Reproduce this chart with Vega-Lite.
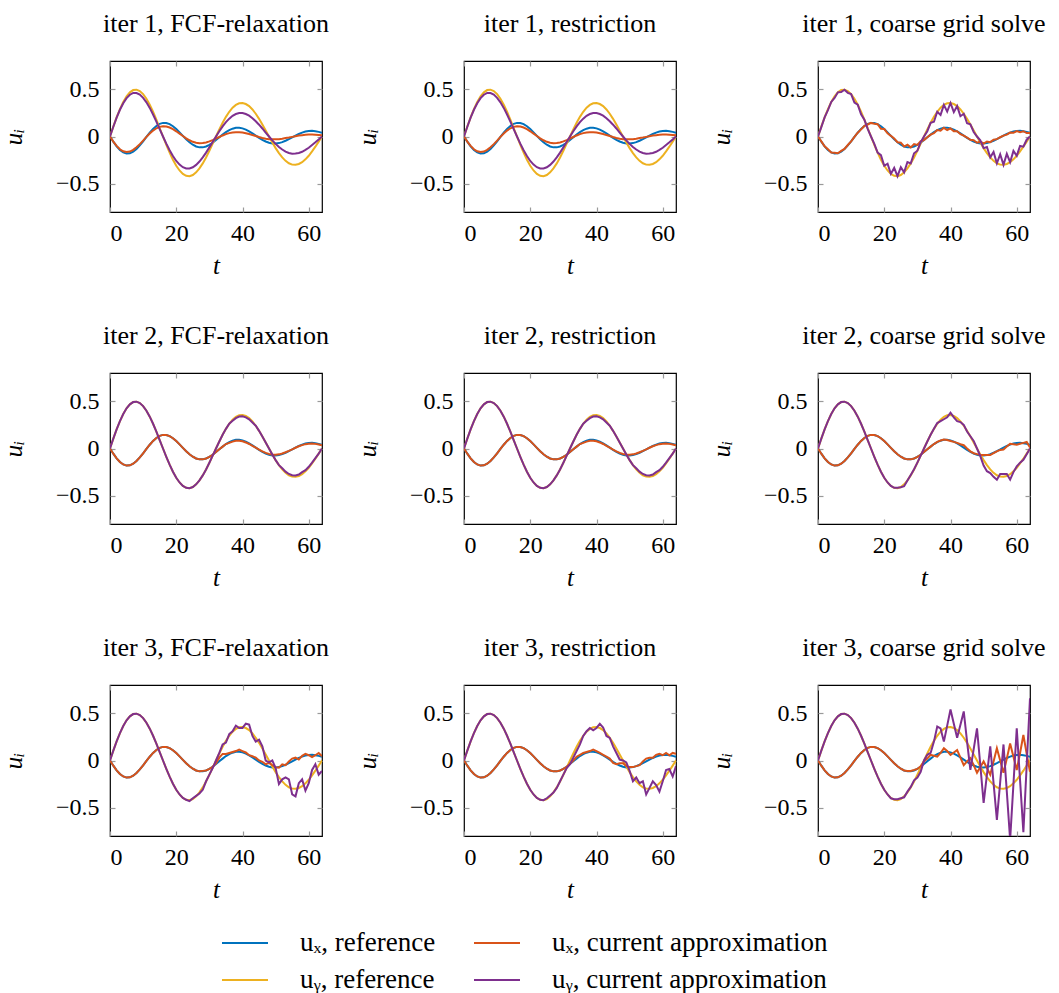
{
"$schema":"https://vega.github.io/schema/vega-lite/v6.json",
"background":"white",
"padding":{"left":0,"top":10,"right":0,"bottom":0},
"config":{
 "font":"Liberation Serif",
 "view":{"stroke":"black","strokeWidth":1.2},
 "axis":{"domain":false,"grid":false,"ticks":true,"tickColor":"#9a9a9a","tickSize":-5,"tickWidth":1.2,"labelFont":"Liberation Serif","labelFontSize":24,"labelColor":"#000","titleFont":"Liberation Serif","titleFontSize":25,"titleFontStyle":"italic","titleFontWeight":"normal","titleColor":"#000"},
 "axisX":{"labelPadding":14,"titlePadding":8},
 "axisY":{"labelPadding":16,"titlePadding":29},
 "title":{"font":"Liberation Serif","fontSize":26,"fontWeight":"normal","color":"#000","frame":"group","anchor":"middle","offset":23},
 "legend":{"labelFont":"Liberation Serif","labelFontSize":27,"labelColor":"#000","labelLimit":0}
},
"datasets":{
"ref":[
{"t":0,"ux_ref":0,"uy_ref":0},{"t":1,"ux_ref":-0.055,"uy_ref":0.104},{"t":2,"ux_ref":-0.104,"uy_ref":0.203},{"t":3,"ux_ref":-0.143,"uy_ref":0.291},{"t":4,"ux_ref":-0.169,"uy_ref":0.366},{"t":5,"ux_ref":-0.181,"uy_ref":0.426},{"t":6,"ux_ref":-0.178,"uy_ref":0.468},{"t":7,"ux_ref":-0.161,"uy_ref":0.492},{"t":8,"ux_ref":-0.132,"uy_ref":0.496},{"t":9,"ux_ref":-0.095,"uy_ref":0.482},{"t":10,"ux_ref":-0.051,"uy_ref":0.449},{"t":11,"ux_ref":-0.005,"uy_ref":0.4},{"t":12,"ux_ref":0.04,"uy_ref":0.337},{"t":13,"ux_ref":0.08,"uy_ref":0.262},{"t":14,"ux_ref":0.112,"uy_ref":0.178},{"t":15,"ux_ref":0.134,"uy_ref":0.09},{"t":16,"ux_ref":0.144,"uy_ref":0},{"t":17,"ux_ref":0.143,"uy_ref":-0.088},{"t":18,"ux_ref":0.131,"uy_ref":-0.171},{"t":19,"ux_ref":0.109,"uy_ref":-0.246},{"t":20,"ux_ref":0.079,"uy_ref":-0.31},{"t":21,"ux_ref":0.044,"uy_ref":-0.36},{"t":22,"ux_ref":0.007,"uy_ref":-0.396},{"t":23,"ux_ref":-0.029,"uy_ref":-0.416},{"t":24,"ux_ref":-0.061,"uy_ref":-0.42},{"t":25,"ux_ref":-0.087,"uy_ref":-0.408},{"t":26,"ux_ref":-0.106,"uy_ref":-0.38},{"t":27,"ux_ref":-0.115,"uy_ref":-0.338},{"t":28,"ux_ref":-0.115,"uy_ref":-0.285},{"t":29,"ux_ref":-0.106,"uy_ref":-0.222},{"t":30,"ux_ref":-0.089,"uy_ref":-0.151},{"t":31,"ux_ref":-0.066,"uy_ref":-0.076},{"t":32,"ux_ref":-0.038,"uy_ref":0},{"t":33,"ux_ref":-0.009,"uy_ref":0.074},{"t":34,"ux_ref":0.02,"uy_ref":0.145},{"t":35,"ux_ref":0.047,"uy_ref":0.208},{"t":36,"ux_ref":0.068,"uy_ref":0.262},{"t":37,"ux_ref":0.083,"uy_ref":0.305},{"t":38,"ux_ref":0.092,"uy_ref":0.335},{"t":39,"ux_ref":0.092,"uy_ref":0.352},{"t":40,"ux_ref":0.086,"uy_ref":0.355},{"t":41,"ux_ref":0.073,"uy_ref":0.344},{"t":42,"ux_ref":0.055,"uy_ref":0.322},{"t":43,"ux_ref":0.033,"uy_ref":0.286},{"t":44,"ux_ref":0.01,"uy_ref":0.241},{"t":45,"ux_ref":-0.014,"uy_ref":0.187},{"t":46,"ux_ref":-0.035,"uy_ref":0.128},{"t":47,"ux_ref":-0.053,"uy_ref":0.064},{"t":48,"ux_ref":-0.066,"uy_ref":0},{"t":49,"ux_ref":-0.073,"uy_ref":-0.063},{"t":50,"ux_ref":-0.074,"uy_ref":-0.123},{"t":51,"ux_ref":-0.07,"uy_ref":-0.176},{"t":52,"ux_ref":-0.06,"uy_ref":-0.221},{"t":53,"ux_ref":-0.045,"uy_ref":-0.258},{"t":54,"ux_ref":-0.028,"uy_ref":-0.284},{"t":55,"ux_ref":-0.01,"uy_ref":-0.298},{"t":56,"ux_ref":0.009,"uy_ref":-0.3},{"t":57,"ux_ref":0.027,"uy_ref":-0.291},{"t":58,"ux_ref":0.041,"uy_ref":-0.272},{"t":59,"ux_ref":0.052,"uy_ref":-0.242},{"t":60,"ux_ref":0.058,"uy_ref":-0.204},{"t":61,"ux_ref":0.06,"uy_ref":-0.158},{"t":62,"ux_ref":0.056,"uy_ref":-0.108},{"t":63,"ux_ref":0.049,"uy_ref":-0.054},{"t":64,"ux_ref":0.038,"uy_ref":0}
],
"app":[
{"p":1,"t":0,"ux_app":0,"uy_app":0},{"p":1,"t":1,"ux_app":-0.054,"uy_app":0.103},{"p":1,"t":2,"ux_app":-0.1,"uy_app":0.199},{"p":1,"t":3,"ux_app":-0.135,"uy_app":0.283},{"p":1,"t":4,"ux_app":-0.157,"uy_app":0.353},{"p":1,"t":5,"ux_app":-0.165,"uy_app":0.407},{"p":1,"t":6,"ux_app":-0.16,"uy_app":0.443},{"p":1,"t":7,"ux_app":-0.142,"uy_app":0.462},{"p":1,"t":8,"ux_app":-0.114,"uy_app":0.461},{"p":1,"t":9,"ux_app":-0.081,"uy_app":0.444},{"p":1,"t":10,"ux_app":-0.043,"uy_app":0.41},{"p":1,"t":11,"ux_app":-0.004,"uy_app":0.362},{"p":1,"t":12,"ux_app":0.032,"uy_app":0.303},{"p":1,"t":13,"ux_app":0.063,"uy_app":0.233},{"p":1,"t":14,"ux_app":0.087,"uy_app":0.157},{"p":1,"t":15,"ux_app":0.102,"uy_app":0.079},{"p":1,"t":16,"ux_app":0.108,"uy_app":0},{"p":1,"t":17,"ux_app":0.105,"uy_app":-0.076},{"p":1,"t":18,"ux_app":0.095,"uy_app":-0.146},{"p":1,"t":19,"ux_app":0.077,"uy_app":-0.207},{"p":1,"t":20,"ux_app":0.055,"uy_app":-0.259},{"p":1,"t":21,"ux_app":0.03,"uy_app":-0.298},{"p":1,"t":22,"ux_app":0.005,"uy_app":-0.325},{"p":1,"t":23,"ux_app":-0.019,"uy_app":-0.338},{"p":1,"t":24,"ux_app":-0.04,"uy_app":-0.339},{"p":1,"t":25,"ux_app":-0.056,"uy_app":-0.326},{"p":1,"t":26,"ux_app":-0.066,"uy_app":-0.301},{"p":1,"t":27,"ux_app":-0.071,"uy_app":-0.265},{"p":1,"t":28,"ux_app":-0.069,"uy_app":-0.221},{"p":1,"t":29,"ux_app":-0.063,"uy_app":-0.171},{"p":1,"t":30,"ux_app":-0.052,"uy_app":-0.115},{"p":1,"t":31,"ux_app":-0.038,"uy_app":-0.058},{"p":1,"t":32,"ux_app":-0.021,"uy_app":0},{"p":1,"t":33,"ux_app":-0.005,"uy_app":0.055},{"p":1,"t":34,"ux_app":0.011,"uy_app":0.107},{"p":1,"t":35,"ux_app":0.025,"uy_app":0.152},{"p":1,"t":36,"ux_app":0.036,"uy_app":0.189},{"p":1,"t":37,"ux_app":0.043,"uy_app":0.219},{"p":1,"t":38,"ux_app":0.046,"uy_app":0.238},{"p":1,"t":39,"ux_app":0.046,"uy_app":0.248},{"p":1,"t":40,"ux_app":0.042,"uy_app":0.248},{"p":1,"t":41,"ux_app":0.035,"uy_app":0.238},{"p":1,"t":42,"ux_app":0.026,"uy_app":0.221},{"p":1,"t":43,"ux_app":0.015,"uy_app":0.194},{"p":1,"t":44,"ux_app":0.005,"uy_app":0.162},{"p":1,"t":45,"ux_app":-0.006,"uy_app":0.125},{"p":1,"t":46,"ux_app":-0.015,"uy_app":0.085},{"p":1,"t":47,"ux_app":-0.023,"uy_app":0.042},{"p":1,"t":48,"ux_app":-0.028,"uy_app":0},{"p":1,"t":49,"ux_app":-0.03,"uy_app":-0.041},{"p":1,"t":50,"ux_app":-0.03,"uy_app":-0.078},{"p":1,"t":51,"ux_app":-0.028,"uy_app":-0.111},{"p":1,"t":52,"ux_app":-0.024,"uy_app":-0.138},{"p":1,"t":53,"ux_app":-0.017,"uy_app":-0.16},{"p":1,"t":54,"ux_app":-0.011,"uy_app":-0.175},{"p":1,"t":55,"ux_app":-0.004,"uy_app":-0.182},{"p":1,"t":56,"ux_app":0.003,"uy_app":-0.181},{"p":1,"t":57,"ux_app":0.01,"uy_app":-0.174},{"p":1,"t":58,"ux_app":0.014,"uy_app":-0.162},{"p":1,"t":59,"ux_app":0.018,"uy_app":-0.142},{"p":1,"t":60,"ux_app":0.02,"uy_app":-0.119},{"p":1,"t":61,"ux_app":0.02,"uy_app":-0.091},{"p":1,"t":62,"ux_app":0.018,"uy_app":-0.062},{"p":1,"t":63,"ux_app":0.016,"uy_app":-0.031},{"p":1,"t":64,"ux_app":0.012,"uy_app":0},
{"p":3,"t":0,"ux_app":0,"uy_app":0},{"p":3,"t":1,"ux_app":-0.052,"uy_app":0.1},{"p":3,"t":2,"ux_app":-0.104,"uy_app":0.203},{"p":3,"t":3,"ux_app":-0.136,"uy_app":0.279},{"p":3,"t":4,"ux_app":-0.169,"uy_app":0.366},{"p":3,"t":5,"ux_app":-0.172,"uy_app":0.409},{"p":3,"t":6,"ux_app":-0.178,"uy_app":0.468},{"p":3,"t":7,"ux_app":-0.153,"uy_app":0.472},{"p":3,"t":8,"ux_app":-0.132,"uy_app":0.496},{"p":3,"t":9,"ux_app":-0.09,"uy_app":0.463},{"p":3,"t":10,"ux_app":-0.051,"uy_app":0.449},{"p":3,"t":11,"ux_app":-0.005,"uy_app":0.36},{"p":3,"t":12,"ux_app":0.04,"uy_app":0.337},{"p":3,"t":13,"ux_app":0.076,"uy_app":0.236},{"p":3,"t":14,"ux_app":0.112,"uy_app":0.178},{"p":3,"t":15,"ux_app":0.127,"uy_app":0.081},{"p":3,"t":16,"ux_app":0.144,"uy_app":0},{"p":3,"t":17,"ux_app":0.136,"uy_app":-0.079},{"p":3,"t":18,"ux_app":0.131,"uy_app":-0.171},{"p":3,"t":19,"ux_app":0.082,"uy_app":-0.197},{"p":3,"t":20,"ux_app":0.079,"uy_app":-0.31},{"p":3,"t":21,"ux_app":0.033,"uy_app":-0.288},{"p":3,"t":22,"ux_app":0.007,"uy_app":-0.396},{"p":3,"t":23,"ux_app":-0.022,"uy_app":-0.333},{"p":3,"t":24,"ux_app":-0.061,"uy_app":-0.42},{"p":3,"t":25,"ux_app":-0.065,"uy_app":-0.326},{"p":3,"t":26,"ux_app":-0.106,"uy_app":-0.38},{"p":3,"t":27,"ux_app":-0.086,"uy_app":-0.27},{"p":3,"t":28,"ux_app":-0.115,"uy_app":-0.285},{"p":3,"t":29,"ux_app":-0.08,"uy_app":-0.178},{"p":3,"t":30,"ux_app":-0.089,"uy_app":-0.151},{"p":3,"t":31,"ux_app":-0.05,"uy_app":-0.061},{"p":3,"t":32,"ux_app":-0.038,"uy_app":0},{"p":3,"t":33,"ux_app":-0.007,"uy_app":0.056},{"p":3,"t":34,"ux_app":0.02,"uy_app":0.145},{"p":3,"t":35,"ux_app":0.035,"uy_app":0.156},{"p":3,"t":36,"ux_app":0.068,"uy_app":0.262},{"p":3,"t":37,"ux_app":0.062,"uy_app":0.229},{"p":3,"t":38,"ux_app":0.092,"uy_app":0.335},{"p":3,"t":39,"ux_app":0.069,"uy_app":0.264},{"p":3,"t":40,"ux_app":0.086,"uy_app":0.355},{"p":3,"t":41,"ux_app":0.055,"uy_app":0.258},{"p":3,"t":42,"ux_app":0.055,"uy_app":0.322},{"p":3,"t":43,"ux_app":0.025,"uy_app":0.215},{"p":3,"t":44,"ux_app":0.01,"uy_app":0.241},{"p":3,"t":45,"ux_app":-0.011,"uy_app":0.14},{"p":3,"t":46,"ux_app":-0.035,"uy_app":0.128},{"p":3,"t":47,"ux_app":-0.04,"uy_app":0.048},{"p":3,"t":48,"ux_app":-0.066,"uy_app":0},{"p":3,"t":49,"ux_app":-0.055,"uy_app":-0.04},{"p":3,"t":50,"ux_app":-0.074,"uy_app":-0.123},{"p":3,"t":51,"ux_app":-0.053,"uy_app":-0.111},{"p":3,"t":52,"ux_app":-0.06,"uy_app":-0.221},{"p":3,"t":53,"ux_app":-0.034,"uy_app":-0.163},{"p":3,"t":54,"ux_app":-0.028,"uy_app":-0.284},{"p":3,"t":55,"ux_app":-0.008,"uy_app":-0.188},{"p":3,"t":56,"ux_app":0.009,"uy_app":-0.3},{"p":3,"t":57,"ux_app":0.02,"uy_app":-0.183},{"p":3,"t":58,"ux_app":0.041,"uy_app":-0.272},{"p":3,"t":59,"ux_app":0.039,"uy_app":-0.152},{"p":3,"t":60,"ux_app":0.058,"uy_app":-0.204},{"p":3,"t":61,"ux_app":0.045,"uy_app":-0.1},{"p":3,"t":62,"ux_app":0.056,"uy_app":-0.108},{"p":3,"t":63,"ux_app":0.037,"uy_app":-0.034},{"p":3,"t":64,"ux_app":0.038,"uy_app":0},
{"p":4,"t":0,"ux_app":0,"uy_app":0},{"p":4,"t":1,"ux_app":-0.055,"uy_app":0.104},{"p":4,"t":2,"ux_app":-0.104,"uy_app":0.203},{"p":4,"t":3,"ux_app":-0.143,"uy_app":0.291},{"p":4,"t":4,"ux_app":-0.169,"uy_app":0.366},{"p":4,"t":5,"ux_app":-0.181,"uy_app":0.426},{"p":4,"t":6,"ux_app":-0.178,"uy_app":0.468},{"p":4,"t":7,"ux_app":-0.161,"uy_app":0.492},{"p":4,"t":8,"ux_app":-0.132,"uy_app":0.496},{"p":4,"t":9,"ux_app":-0.095,"uy_app":0.482},{"p":4,"t":10,"ux_app":-0.051,"uy_app":0.449},{"p":4,"t":11,"ux_app":-0.005,"uy_app":0.4},{"p":4,"t":12,"ux_app":0.04,"uy_app":0.337},{"p":4,"t":13,"ux_app":0.08,"uy_app":0.262},{"p":4,"t":14,"ux_app":0.112,"uy_app":0.178},{"p":4,"t":15,"ux_app":0.134,"uy_app":0.09},{"p":4,"t":16,"ux_app":0.144,"uy_app":0},{"p":4,"t":17,"ux_app":0.143,"uy_app":-0.088},{"p":4,"t":18,"ux_app":0.131,"uy_app":-0.171},{"p":4,"t":19,"ux_app":0.109,"uy_app":-0.246},{"p":4,"t":20,"ux_app":0.079,"uy_app":-0.31},{"p":4,"t":21,"ux_app":0.044,"uy_app":-0.36},{"p":4,"t":22,"ux_app":0.007,"uy_app":-0.396},{"p":4,"t":23,"ux_app":-0.029,"uy_app":-0.416},{"p":4,"t":24,"ux_app":-0.061,"uy_app":-0.42},{"p":4,"t":25,"ux_app":-0.087,"uy_app":-0.408},{"p":4,"t":26,"ux_app":-0.106,"uy_app":-0.38},{"p":4,"t":27,"ux_app":-0.115,"uy_app":-0.338},{"p":4,"t":28,"ux_app":-0.115,"uy_app":-0.285},{"p":4,"t":29,"ux_app":-0.106,"uy_app":-0.222},{"p":4,"t":30,"ux_app":-0.089,"uy_app":-0.151},{"p":4,"t":31,"ux_app":-0.066,"uy_app":-0.076},{"p":4,"t":32,"ux_app":-0.038,"uy_app":0},{"p":4,"t":33,"ux_app":-0.009,"uy_app":0.074},{"p":4,"t":34,"ux_app":0.02,"uy_app":0.145},{"p":4,"t":35,"ux_app":0.047,"uy_app":0.208},{"p":4,"t":36,"ux_app":0.06,"uy_app":0.262},{"p":4,"t":37,"ux_app":0.073,"uy_app":0.293},{"p":4,"t":38,"ux_app":0.081,"uy_app":0.322},{"p":4,"t":39,"ux_app":0.081,"uy_app":0.338},{"p":4,"t":40,"ux_app":0.076,"uy_app":0.341},{"p":4,"t":41,"ux_app":0.064,"uy_app":0.33},{"p":4,"t":42,"ux_app":0.048,"uy_app":0.309},{"p":4,"t":43,"ux_app":0.029,"uy_app":0.275},{"p":4,"t":44,"ux_app":0.009,"uy_app":0.241},{"p":4,"t":45,"ux_app":-0.012,"uy_app":0.187},{"p":4,"t":46,"ux_app":-0.031,"uy_app":0.128},{"p":4,"t":47,"ux_app":-0.047,"uy_app":0.064},{"p":4,"t":48,"ux_app":-0.058,"uy_app":0},{"p":4,"t":49,"ux_app":-0.064,"uy_app":-0.063},{"p":4,"t":50,"ux_app":-0.065,"uy_app":-0.123},{"p":4,"t":51,"ux_app":-0.062,"uy_app":-0.176},{"p":4,"t":52,"ux_app":-0.053,"uy_app":-0.21},{"p":4,"t":53,"ux_app":-0.04,"uy_app":-0.245},{"p":4,"t":54,"ux_app":-0.025,"uy_app":-0.27},{"p":4,"t":55,"ux_app":-0.009,"uy_app":-0.283},{"p":4,"t":56,"ux_app":0.008,"uy_app":-0.285},{"p":4,"t":57,"ux_app":0.024,"uy_app":-0.276},{"p":4,"t":58,"ux_app":0.036,"uy_app":-0.25},{"p":4,"t":59,"ux_app":0.046,"uy_app":-0.23},{"p":4,"t":60,"ux_app":0.051,"uy_app":-0.194},{"p":4,"t":61,"ux_app":0.053,"uy_app":-0.15},{"p":4,"t":62,"ux_app":0.049,"uy_app":-0.103},{"p":4,"t":63,"ux_app":0.043,"uy_app":-0.054},{"p":4,"t":64,"ux_app":0.033,"uy_app":0},
{"p":6,"t":0,"ux_app":0,"uy_app":0},{"p":6,"t":1,"ux_app":-0.055,"uy_app":0.104},{"p":6,"t":2,"ux_app":-0.104,"uy_app":0.203},{"p":6,"t":3,"ux_app":-0.143,"uy_app":0.291},{"p":6,"t":4,"ux_app":-0.169,"uy_app":0.366},{"p":6,"t":5,"ux_app":-0.181,"uy_app":0.426},{"p":6,"t":6,"ux_app":-0.178,"uy_app":0.468},{"p":6,"t":7,"ux_app":-0.161,"uy_app":0.492},{"p":6,"t":8,"ux_app":-0.132,"uy_app":0.496},{"p":6,"t":9,"ux_app":-0.095,"uy_app":0.482},{"p":6,"t":10,"ux_app":-0.051,"uy_app":0.449},{"p":6,"t":11,"ux_app":-0.005,"uy_app":0.4},{"p":6,"t":12,"ux_app":0.04,"uy_app":0.337},{"p":6,"t":13,"ux_app":0.08,"uy_app":0.262},{"p":6,"t":14,"ux_app":0.112,"uy_app":0.178},{"p":6,"t":15,"ux_app":0.134,"uy_app":0.09},{"p":6,"t":16,"ux_app":0.144,"uy_app":0},{"p":6,"t":17,"ux_app":0.143,"uy_app":-0.088},{"p":6,"t":18,"ux_app":0.131,"uy_app":-0.171},{"p":6,"t":19,"ux_app":0.109,"uy_app":-0.246},{"p":6,"t":20,"ux_app":0.079,"uy_app":-0.31},{"p":6,"t":21,"ux_app":0.044,"uy_app":-0.36},{"p":6,"t":22,"ux_app":0.007,"uy_app":-0.396},{"p":6,"t":23,"ux_app":-0.029,"uy_app":-0.416},{"p":6,"t":24,"ux_app":-0.061,"uy_app":-0.415},{"p":6,"t":25,"ux_app":-0.087,"uy_app":-0.41},{"p":6,"t":26,"ux_app":-0.106,"uy_app":-0.4},{"p":6,"t":27,"ux_app":-0.115,"uy_app":-0.34},{"p":6,"t":28,"ux_app":-0.115,"uy_app":-0.28},{"p":6,"t":29,"ux_app":-0.106,"uy_app":-0.22},{"p":6,"t":30,"ux_app":-0.089,"uy_app":-0.15},{"p":6,"t":31,"ux_app":-0.066,"uy_app":-0.076},{"p":6,"t":32,"ux_app":-0.038,"uy_app":0},{"p":6,"t":33,"ux_app":-0.009,"uy_app":0.074},{"p":6,"t":34,"ux_app":0.02,"uy_app":0.145},{"p":6,"t":35,"ux_app":0.047,"uy_app":0.21},{"p":6,"t":36,"ux_app":0.07,"uy_app":0.27},{"p":6,"t":37,"ux_app":0.085,"uy_app":0.29},{"p":6,"t":38,"ux_app":0.095,"uy_app":0.31},{"p":6,"t":39,"ux_app":0.09,"uy_app":0.33},{"p":6,"t":40,"ux_app":0.08,"uy_app":0.38},{"p":6,"t":41,"ux_app":0.07,"uy_app":0.33},{"p":6,"t":42,"ux_app":0.06,"uy_app":0.29},{"p":6,"t":43,"ux_app":0.045,"uy_app":0.28},{"p":6,"t":44,"ux_app":0.035,"uy_app":0.25},{"p":6,"t":45,"ux_app":0,"uy_app":0.18},{"p":6,"t":46,"ux_app":-0.03,"uy_app":0.13},{"p":6,"t":47,"ux_app":-0.05,"uy_app":0.08},{"p":6,"t":48,"ux_app":-0.06,"uy_app":0},{"p":6,"t":49,"ux_app":-0.07,"uy_app":-0.08},{"p":6,"t":50,"ux_app":-0.07,"uy_app":-0.18},{"p":6,"t":51,"ux_app":-0.07,"uy_app":-0.24},{"p":6,"t":52,"ux_app":-0.07,"uy_app":-0.26},{"p":6,"t":53,"ux_app":-0.05,"uy_app":-0.3},{"p":6,"t":54,"ux_app":-0.03,"uy_app":-0.33},{"p":6,"t":55,"ux_app":-0.015,"uy_app":-0.27},{"p":6,"t":56,"ux_app":-0.01,"uy_app":-0.27},{"p":6,"t":57,"ux_app":0.02,"uy_app":-0.27},{"p":6,"t":58,"ux_app":0.05,"uy_app":-0.33},{"p":6,"t":59,"ux_app":0.045,"uy_app":-0.25},{"p":6,"t":60,"ux_app":0.04,"uy_app":-0.19},{"p":6,"t":61,"ux_app":0.05,"uy_app":-0.15},{"p":6,"t":62,"ux_app":0.06,"uy_app":-0.12},{"p":6,"t":63,"ux_app":0.07,"uy_app":-0.06},{"p":6,"t":64,"ux_app":0.01,"uy_app":0},
{"p":7,"t":0,"ux_app":0,"uy_app":0},{"p":7,"t":1,"ux_app":-0.055,"uy_app":0.104},{"p":7,"t":2,"ux_app":-0.104,"uy_app":0.203},{"p":7,"t":3,"ux_app":-0.143,"uy_app":0.291},{"p":7,"t":4,"ux_app":-0.169,"uy_app":0.366},{"p":7,"t":5,"ux_app":-0.181,"uy_app":0.426},{"p":7,"t":6,"ux_app":-0.178,"uy_app":0.468},{"p":7,"t":7,"ux_app":-0.161,"uy_app":0.492},{"p":7,"t":8,"ux_app":-0.132,"uy_app":0.496},{"p":7,"t":9,"ux_app":-0.095,"uy_app":0.482},{"p":7,"t":10,"ux_app":-0.051,"uy_app":0.449},{"p":7,"t":11,"ux_app":-0.005,"uy_app":0.4},{"p":7,"t":12,"ux_app":0.04,"uy_app":0.337},{"p":7,"t":13,"ux_app":0.08,"uy_app":0.262},{"p":7,"t":14,"ux_app":0.112,"uy_app":0.178},{"p":7,"t":15,"ux_app":0.134,"uy_app":0.09},{"p":7,"t":16,"ux_app":0.144,"uy_app":0},{"p":7,"t":17,"ux_app":0.143,"uy_app":-0.088},{"p":7,"t":18,"ux_app":0.131,"uy_app":-0.171},{"p":7,"t":19,"ux_app":0.109,"uy_app":-0.246},{"p":7,"t":20,"ux_app":0.079,"uy_app":-0.31},{"p":7,"t":21,"ux_app":0.044,"uy_app":-0.36},{"p":7,"t":22,"ux_app":0.007,"uy_app":-0.396},{"p":7,"t":23,"ux_app":-0.029,"uy_app":-0.416},{"p":7,"t":24,"ux_app":-0.061,"uy_app":-0.43},{"p":7,"t":25,"ux_app":-0.087,"uy_app":-0.4},{"p":7,"t":26,"ux_app":-0.106,"uy_app":-0.375},{"p":7,"t":27,"ux_app":-0.115,"uy_app":-0.35},{"p":7,"t":28,"ux_app":-0.11,"uy_app":-0.31},{"p":7,"t":29,"ux_app":-0.106,"uy_app":-0.22},{"p":7,"t":30,"ux_app":-0.089,"uy_app":-0.15},{"p":7,"t":31,"ux_app":-0.066,"uy_app":-0.08},{"p":7,"t":32,"ux_app":-0.03,"uy_app":0},{"p":7,"t":33,"ux_app":0.03,"uy_app":0.08},{"p":7,"t":34,"ux_app":0.07,"uy_app":0.17},{"p":7,"t":35,"ux_app":0.07,"uy_app":0.19},{"p":7,"t":36,"ux_app":0.08,"uy_app":0.28},{"p":7,"t":37,"ux_app":0.09,"uy_app":0.31},{"p":7,"t":38,"ux_app":0.1,"uy_app":0.37},{"p":7,"t":39,"ux_app":0.115,"uy_app":0.345},{"p":7,"t":40,"ux_app":0.1,"uy_app":0.345},{"p":7,"t":41,"ux_app":0.085,"uy_app":0.39},{"p":7,"t":42,"ux_app":0.056,"uy_app":0.38},{"p":7,"t":43,"ux_app":0.045,"uy_app":0.26},{"p":7,"t":44,"ux_app":0.03,"uy_app":0.2},{"p":7,"t":45,"ux_app":0,"uy_app":0.22},{"p":7,"t":46,"ux_app":-0.014,"uy_app":0.15},{"p":7,"t":47,"ux_app":-0.04,"uy_app":0},{"p":7,"t":48,"ux_app":-0.025,"uy_app":-0.02},{"p":7,"t":49,"ux_app":-0.05,"uy_app":0},{"p":7,"t":50,"ux_app":-0.07,"uy_app":-0.08},{"p":7,"t":51,"ux_app":-0.077,"uy_app":-0.25},{"p":7,"t":52,"ux_app":-0.04,"uy_app":-0.2},{"p":7,"t":53,"ux_app":-0.05,"uy_app":-0.18},{"p":7,"t":54,"ux_app":-0.01,"uy_app":-0.2},{"p":7,"t":55,"ux_app":0.02,"uy_app":-0.36},{"p":7,"t":56,"ux_app":0.03,"uy_app":-0.38},{"p":7,"t":57,"ux_app":0.01,"uy_app":-0.24},{"p":7,"t":58,"ux_app":0.05,"uy_app":-0.2},{"p":7,"t":59,"ux_app":0.07,"uy_app":-0.32},{"p":7,"t":60,"ux_app":0.056,"uy_app":-0.24},{"p":7,"t":61,"ux_app":0.035,"uy_app":-0.1},{"p":7,"t":62,"ux_app":0.056,"uy_app":-0.04},{"p":7,"t":63,"ux_app":0.08,"uy_app":-0.15},{"p":7,"t":64,"ux_app":0.045,"uy_app":-0.11},
{"p":8,"t":0,"ux_app":0,"uy_app":0},{"p":8,"t":1,"ux_app":-0.055,"uy_app":0.104},{"p":8,"t":2,"ux_app":-0.104,"uy_app":0.203},{"p":8,"t":3,"ux_app":-0.143,"uy_app":0.291},{"p":8,"t":4,"ux_app":-0.169,"uy_app":0.366},{"p":8,"t":5,"ux_app":-0.181,"uy_app":0.426},{"p":8,"t":6,"ux_app":-0.178,"uy_app":0.468},{"p":8,"t":7,"ux_app":-0.161,"uy_app":0.492},{"p":8,"t":8,"ux_app":-0.132,"uy_app":0.496},{"p":8,"t":9,"ux_app":-0.095,"uy_app":0.482},{"p":8,"t":10,"ux_app":-0.051,"uy_app":0.449},{"p":8,"t":11,"ux_app":-0.005,"uy_app":0.4},{"p":8,"t":12,"ux_app":0.04,"uy_app":0.337},{"p":8,"t":13,"ux_app":0.08,"uy_app":0.262},{"p":8,"t":14,"ux_app":0.112,"uy_app":0.178},{"p":8,"t":15,"ux_app":0.134,"uy_app":0.09},{"p":8,"t":16,"ux_app":0.144,"uy_app":0},{"p":8,"t":17,"ux_app":0.143,"uy_app":-0.088},{"p":8,"t":18,"ux_app":0.131,"uy_app":-0.171},{"p":8,"t":19,"ux_app":0.109,"uy_app":-0.246},{"p":8,"t":20,"ux_app":0.079,"uy_app":-0.31},{"p":8,"t":21,"ux_app":0.044,"uy_app":-0.36},{"p":8,"t":22,"ux_app":0.007,"uy_app":-0.396},{"p":8,"t":23,"ux_app":-0.029,"uy_app":-0.416},{"p":8,"t":24,"ux_app":-0.061,"uy_app":-0.42},{"p":8,"t":25,"ux_app":-0.087,"uy_app":-0.4},{"p":8,"t":26,"ux_app":-0.106,"uy_app":-0.37},{"p":8,"t":27,"ux_app":-0.115,"uy_app":-0.34},{"p":8,"t":28,"ux_app":-0.115,"uy_app":-0.29},{"p":8,"t":29,"ux_app":-0.106,"uy_app":-0.22},{"p":8,"t":30,"ux_app":-0.089,"uy_app":-0.15},{"p":8,"t":31,"ux_app":-0.066,"uy_app":-0.08},{"p":8,"t":32,"ux_app":-0.035,"uy_app":-0.04},{"p":8,"t":33,"ux_app":0,"uy_app":0.03},{"p":8,"t":34,"ux_app":0.04,"uy_app":0.1},{"p":8,"t":35,"ux_app":0.06,"uy_app":0.17},{"p":8,"t":36,"ux_app":0.08,"uy_app":0.26},{"p":8,"t":37,"ux_app":0.09,"uy_app":0.31},{"p":8,"t":38,"ux_app":0.1,"uy_app":0.345},{"p":8,"t":39,"ux_app":0.115,"uy_app":0.32},{"p":8,"t":40,"ux_app":0.1,"uy_app":0.345},{"p":8,"t":41,"ux_app":0.08,"uy_app":0.39},{"p":8,"t":42,"ux_app":0.06,"uy_app":0.35},{"p":8,"t":43,"ux_app":0.04,"uy_app":0.26},{"p":8,"t":44,"ux_app":0.02,"uy_app":0.24},{"p":8,"t":45,"ux_app":-0.025,"uy_app":0.15},{"p":8,"t":46,"ux_app":-0.04,"uy_app":0.08},{"p":8,"t":47,"ux_app":-0.03,"uy_app":0.01},{"p":8,"t":48,"ux_app":-0.03,"uy_app":0},{"p":8,"t":49,"ux_app":-0.06,"uy_app":-0.02},{"p":8,"t":50,"ux_app":-0.07,"uy_app":-0.11},{"p":8,"t":51,"ux_app":-0.07,"uy_app":-0.22},{"p":8,"t":52,"ux_app":-0.06,"uy_app":-0.18},{"p":8,"t":53,"ux_app":-0.05,"uy_app":-0.24},{"p":8,"t":54,"ux_app":-0.01,"uy_app":-0.22},{"p":8,"t":55,"ux_app":0.02,"uy_app":-0.36},{"p":8,"t":56,"ux_app":0.03,"uy_app":-0.29},{"p":8,"t":57,"ux_app":0.03,"uy_app":-0.22},{"p":8,"t":58,"ux_app":0.06,"uy_app":-0.26},{"p":8,"t":59,"ux_app":0.07,"uy_app":-0.33},{"p":8,"t":60,"ux_app":0.056,"uy_app":-0.22},{"p":8,"t":61,"ux_app":0.08,"uy_app":-0.1},{"p":8,"t":62,"ux_app":0.056,"uy_app":-0.09},{"p":8,"t":63,"ux_app":0.08,"uy_app":-0.17},{"p":8,"t":64,"ux_app":0.07,"uy_app":-0.06},
{"p":9,"t":0,"ux_app":0,"uy_app":0},{"p":9,"t":1,"ux_app":-0.055,"uy_app":0.104},{"p":9,"t":2,"ux_app":-0.104,"uy_app":0.203},{"p":9,"t":3,"ux_app":-0.143,"uy_app":0.291},{"p":9,"t":4,"ux_app":-0.169,"uy_app":0.366},{"p":9,"t":5,"ux_app":-0.181,"uy_app":0.426},{"p":9,"t":6,"ux_app":-0.178,"uy_app":0.468},{"p":9,"t":7,"ux_app":-0.161,"uy_app":0.492},{"p":9,"t":8,"ux_app":-0.132,"uy_app":0.496},{"p":9,"t":9,"ux_app":-0.095,"uy_app":0.482},{"p":9,"t":10,"ux_app":-0.051,"uy_app":0.449},{"p":9,"t":11,"ux_app":-0.005,"uy_app":0.4},{"p":9,"t":12,"ux_app":0.04,"uy_app":0.337},{"p":9,"t":13,"ux_app":0.08,"uy_app":0.262},{"p":9,"t":14,"ux_app":0.112,"uy_app":0.178},{"p":9,"t":15,"ux_app":0.134,"uy_app":0.09},{"p":9,"t":16,"ux_app":0.144,"uy_app":0},{"p":9,"t":17,"ux_app":0.143,"uy_app":-0.088},{"p":9,"t":18,"ux_app":0.131,"uy_app":-0.171},{"p":9,"t":19,"ux_app":0.109,"uy_app":-0.246},{"p":9,"t":20,"ux_app":0.079,"uy_app":-0.31},{"p":9,"t":21,"ux_app":0.044,"uy_app":-0.36},{"p":9,"t":22,"ux_app":0.007,"uy_app":-0.4},{"p":9,"t":23,"ux_app":-0.029,"uy_app":-0.41},{"p":9,"t":24,"ux_app":-0.061,"uy_app":-0.41},{"p":9,"t":25,"ux_app":-0.087,"uy_app":-0.4},{"p":9,"t":26,"ux_app":-0.106,"uy_app":-0.39},{"p":9,"t":27,"ux_app":-0.11,"uy_app":-0.33},{"p":9,"t":28,"ux_app":-0.11,"uy_app":-0.28},{"p":9,"t":29,"ux_app":-0.1,"uy_app":-0.21},{"p":9,"t":30,"ux_app":-0.089,"uy_app":-0.18},{"p":9,"t":31,"ux_app":-0.06,"uy_app":-0.12},{"p":9,"t":32,"ux_app":-0.01,"uy_app":0},{"p":9,"t":33,"ux_app":0.02,"uy_app":0.06},{"p":9,"t":34,"ux_app":0.06,"uy_app":0.08},{"p":9,"t":35,"ux_app":0.05,"uy_app":0.2},{"p":9,"t":36,"ux_app":0.04,"uy_app":0.36},{"p":9,"t":37,"ux_app":0.08,"uy_app":0.34},{"p":9,"t":38,"ux_app":0.13,"uy_app":0.2},{"p":9,"t":39,"ux_app":0.1,"uy_app":0.37},{"p":9,"t":40,"ux_app":0.06,"uy_app":0.54},{"p":9,"t":41,"ux_app":0.085,"uy_app":0.39},{"p":9,"t":42,"ux_app":0.11,"uy_app":0.24},{"p":9,"t":43,"ux_app":0.03,"uy_app":0.38},{"p":9,"t":44,"ux_app":-0.05,"uy_app":0.52},{"p":9,"t":45,"ux_app":-0.01,"uy_app":0.2},{"p":9,"t":46,"ux_app":0.025,"uy_app":-0.1},{"p":9,"t":47,"ux_app":-0.05,"uy_app":0.12},{"p":9,"t":48,"ux_app":-0.13,"uy_app":0.34},{"p":9,"t":49,"ux_app":-0.07,"uy_app":-0.05},{"p":9,"t":50,"ux_app":-0.01,"uy_app":-0.45},{"p":9,"t":51,"ux_app":-0.08,"uy_app":-0.15},{"p":9,"t":52,"ux_app":-0.15,"uy_app":0.15},{"p":9,"t":53,"ux_app":-0.01,"uy_app":-0.24},{"p":9,"t":54,"ux_app":0.13,"uy_app":-0.63},{"p":9,"t":55,"ux_app":0,"uy_app":-0.23},{"p":9,"t":56,"ux_app":-0.13,"uy_app":0.17},{"p":9,"t":57,"ux_app":0.02,"uy_app":-0.33},{"p":9,"t":58,"ux_app":0.18,"uy_app":-0.84},{"p":9,"t":59,"ux_app":0.04,"uy_app":-0.25},{"p":9,"t":60,"ux_app":-0.1,"uy_app":0.34},{"p":9,"t":61,"ux_app":0.08,"uy_app":-0.21},{"p":9,"t":62,"ux_app":0.27,"uy_app":-0.76},{"p":9,"t":63,"ux_app":0.07,"uy_app":-0.05},{"p":9,"t":64,"ux_app":-0.12,"uy_app":0.66}
]
},
"spacing":312,
"bounds":"flush",
"vconcat":[
{"hconcat":[
{"title":"iter 1, FCF-relaxation","width":212,"height":151,"layer":[
 {"data":{"name":"ref"},"transform":[{"fold":["ux_ref","uy_ref"],"as":["series","u"]}],"mark":{"type":"line","strokeWidth":2,"clip":true},"encoding":{"x":{"field":"t","type":"quantitative","scale":{"domain":[0,64],"nice":false},"axis":{"values":[0,20,40,60],"title":"t"}},"y":{"field":"u","type":"quantitative","scale":{"domain":[-0.8,0.8],"nice":false},"axis":{"values":[-0.5,0,0.5],"format":"~g","title":"uᵢ"}},"color":{"field":"series","type":"nominal","scale":{"domain":["ux_ref","ux_app","uy_ref","uy_app"],"range":["#0072BD","#D95319","#EDB120","#7E2F8E"]},"legend":{"orient":"none","legendX":111,"legendY":858,"title":null,"columns":2,"direction":"horizontal","symbolType":"stroke","symbolStrokeWidth":2,"symbolSize":2116,"labelOffset":31,"columnPadding":34,"rowPadding":-18,"labelExpr":"datum.value=='ux_ref'?'uₓ, reference':datum.value=='ux_app'?'uₓ, current approximation':datum.value=='uy_ref'?'uᵧ, reference':'uᵧ, current approximation'"}}}},
 {"data":{"name":"app"},"transform":[{"filter":"datum.p==1"},{"fold":["ux_app","uy_app"],"as":["series","u"]}],"mark":{"type":"line","strokeWidth":2,"clip":true},"encoding":{"x":{"field":"t","type":"quantitative","axis":{"orient":"top","values":[0,20,40,60],"labels":false,"title":null}},"y":{"field":"u","type":"quantitative","axis":{"orient":"right","values":[-0.5,0,0.5],"labels":false,"title":null}},"color":{"field":"series","type":"nominal"}}}
],"resolve":{"axis":{"x":"independent","y":"independent"}}},
{"title":"iter 1, restriction","width":212,"height":151,"layer":[
 {"data":{"name":"ref"},"transform":[{"fold":["ux_ref","uy_ref"],"as":["series","u"]}],"mark":{"type":"line","strokeWidth":2,"clip":true},"encoding":{"x":{"field":"t","type":"quantitative","scale":{"domain":[0,64],"nice":false},"axis":{"values":[0,20,40,60],"title":"t"}},"y":{"field":"u","type":"quantitative","scale":{"domain":[-0.8,0.8],"nice":false},"axis":{"values":[-0.5,0,0.5],"format":"~g","title":"uᵢ"}},"color":{"field":"series","type":"nominal"}}},
 {"data":{"name":"app"},"transform":[{"filter":"datum.p==1"},{"fold":["ux_app","uy_app"],"as":["series","u"]}],"mark":{"type":"line","strokeWidth":2,"clip":true},"encoding":{"x":{"field":"t","type":"quantitative","axis":{"orient":"top","values":[0,20,40,60],"labels":false,"title":null}},"y":{"field":"u","type":"quantitative","axis":{"orient":"right","values":[-0.5,0,0.5],"labels":false,"title":null}},"color":{"field":"series","type":"nominal"}}}
],"resolve":{"axis":{"x":"independent","y":"independent"}}},
{"title":"iter 1, coarse grid solve","width":212,"height":151,"layer":[
 {"data":{"name":"ref"},"transform":[{"fold":["ux_ref","uy_ref"],"as":["series","u"]}],"mark":{"type":"line","strokeWidth":2,"clip":true},"encoding":{"x":{"field":"t","type":"quantitative","scale":{"domain":[0,64],"nice":false},"axis":{"values":[0,20,40,60],"title":"t"}},"y":{"field":"u","type":"quantitative","scale":{"domain":[-0.8,0.8],"nice":false},"axis":{"values":[-0.5,0,0.5],"format":"~g","title":"uᵢ"}},"color":{"field":"series","type":"nominal"}}},
 {"data":{"name":"app"},"transform":[{"filter":"datum.p==3"},{"fold":["ux_app","uy_app"],"as":["series","u"]}],"mark":{"type":"line","strokeWidth":2,"clip":true},"encoding":{"x":{"field":"t","type":"quantitative","axis":{"orient":"top","values":[0,20,40,60],"labels":false,"title":null}},"y":{"field":"u","type":"quantitative","axis":{"orient":"right","values":[-0.5,0,0.5],"labels":false,"title":null}},"color":{"field":"series","type":"nominal"}}}
],"resolve":{"axis":{"x":"independent","y":"independent"}}}
],"spacing":142,"bounds":"flush"},
{"hconcat":[
{"title":"iter 2, FCF-relaxation","width":212,"height":151,"layer":[
 {"data":{"name":"ref"},"transform":[{"fold":["ux_ref","uy_ref"],"as":["series","u"]}],"mark":{"type":"line","strokeWidth":2,"clip":true},"encoding":{"x":{"field":"t","type":"quantitative","scale":{"domain":[0,64],"nice":false},"axis":{"values":[0,20,40,60],"title":"t"}},"y":{"field":"u","type":"quantitative","scale":{"domain":[-0.8,0.8],"nice":false},"axis":{"values":[-0.5,0,0.5],"format":"~g","title":"uᵢ"}},"color":{"field":"series","type":"nominal"}}},
 {"data":{"name":"app"},"transform":[{"filter":"datum.p==4"},{"fold":["ux_app","uy_app"],"as":["series","u"]}],"mark":{"type":"line","strokeWidth":2,"clip":true},"encoding":{"x":{"field":"t","type":"quantitative","axis":{"orient":"top","values":[0,20,40,60],"labels":false,"title":null}},"y":{"field":"u","type":"quantitative","axis":{"orient":"right","values":[-0.5,0,0.5],"labels":false,"title":null}},"color":{"field":"series","type":"nominal"}}}
],"resolve":{"axis":{"x":"independent","y":"independent"}}},
{"title":"iter 2, restriction","width":212,"height":151,"layer":[
 {"data":{"name":"ref"},"transform":[{"fold":["ux_ref","uy_ref"],"as":["series","u"]}],"mark":{"type":"line","strokeWidth":2,"clip":true},"encoding":{"x":{"field":"t","type":"quantitative","scale":{"domain":[0,64],"nice":false},"axis":{"values":[0,20,40,60],"title":"t"}},"y":{"field":"u","type":"quantitative","scale":{"domain":[-0.8,0.8],"nice":false},"axis":{"values":[-0.5,0,0.5],"format":"~g","title":"uᵢ"}},"color":{"field":"series","type":"nominal"}}},
 {"data":{"name":"app"},"transform":[{"filter":"datum.p==4"},{"fold":["ux_app","uy_app"],"as":["series","u"]}],"mark":{"type":"line","strokeWidth":2,"clip":true},"encoding":{"x":{"field":"t","type":"quantitative","axis":{"orient":"top","values":[0,20,40,60],"labels":false,"title":null}},"y":{"field":"u","type":"quantitative","axis":{"orient":"right","values":[-0.5,0,0.5],"labels":false,"title":null}},"color":{"field":"series","type":"nominal"}}}
],"resolve":{"axis":{"x":"independent","y":"independent"}}},
{"title":"iter 2, coarse grid solve","width":212,"height":151,"layer":[
 {"data":{"name":"ref"},"transform":[{"fold":["ux_ref","uy_ref"],"as":["series","u"]}],"mark":{"type":"line","strokeWidth":2,"clip":true},"encoding":{"x":{"field":"t","type":"quantitative","scale":{"domain":[0,64],"nice":false},"axis":{"values":[0,20,40,60],"title":"t"}},"y":{"field":"u","type":"quantitative","scale":{"domain":[-0.8,0.8],"nice":false},"axis":{"values":[-0.5,0,0.5],"format":"~g","title":"uᵢ"}},"color":{"field":"series","type":"nominal"}}},
 {"data":{"name":"app"},"transform":[{"filter":"datum.p==6"},{"fold":["ux_app","uy_app"],"as":["series","u"]}],"mark":{"type":"line","strokeWidth":2,"clip":true},"encoding":{"x":{"field":"t","type":"quantitative","axis":{"orient":"top","values":[0,20,40,60],"labels":false,"title":null}},"y":{"field":"u","type":"quantitative","axis":{"orient":"right","values":[-0.5,0,0.5],"labels":false,"title":null}},"color":{"field":"series","type":"nominal"}}}
],"resolve":{"axis":{"x":"independent","y":"independent"}}}
],"spacing":142,"bounds":"flush"},
{"hconcat":[
{"title":"iter 3, FCF-relaxation","width":212,"height":151,"layer":[
 {"data":{"name":"ref"},"transform":[{"fold":["ux_ref","uy_ref"],"as":["series","u"]}],"mark":{"type":"line","strokeWidth":2,"clip":true},"encoding":{"x":{"field":"t","type":"quantitative","scale":{"domain":[0,64],"nice":false},"axis":{"values":[0,20,40,60],"title":"t"}},"y":{"field":"u","type":"quantitative","scale":{"domain":[-0.8,0.8],"nice":false},"axis":{"values":[-0.5,0,0.5],"format":"~g","title":"uᵢ"}},"color":{"field":"series","type":"nominal"}}},
 {"data":{"name":"app"},"transform":[{"filter":"datum.p==7"},{"fold":["ux_app","uy_app"],"as":["series","u"]}],"mark":{"type":"line","strokeWidth":2,"clip":true},"encoding":{"x":{"field":"t","type":"quantitative","axis":{"orient":"top","values":[0,20,40,60],"labels":false,"title":null}},"y":{"field":"u","type":"quantitative","axis":{"orient":"right","values":[-0.5,0,0.5],"labels":false,"title":null}},"color":{"field":"series","type":"nominal"}}}
],"resolve":{"axis":{"x":"independent","y":"independent"}}},
{"title":"iter 3, restriction","width":212,"height":151,"layer":[
 {"data":{"name":"ref"},"transform":[{"fold":["ux_ref","uy_ref"],"as":["series","u"]}],"mark":{"type":"line","strokeWidth":2,"clip":true},"encoding":{"x":{"field":"t","type":"quantitative","scale":{"domain":[0,64],"nice":false},"axis":{"values":[0,20,40,60],"title":"t"}},"y":{"field":"u","type":"quantitative","scale":{"domain":[-0.8,0.8],"nice":false},"axis":{"values":[-0.5,0,0.5],"format":"~g","title":"uᵢ"}},"color":{"field":"series","type":"nominal"}}},
 {"data":{"name":"app"},"transform":[{"filter":"datum.p==8"},{"fold":["ux_app","uy_app"],"as":["series","u"]}],"mark":{"type":"line","strokeWidth":2,"clip":true},"encoding":{"x":{"field":"t","type":"quantitative","axis":{"orient":"top","values":[0,20,40,60],"labels":false,"title":null}},"y":{"field":"u","type":"quantitative","axis":{"orient":"right","values":[-0.5,0,0.5],"labels":false,"title":null}},"color":{"field":"series","type":"nominal"}}}
],"resolve":{"axis":{"x":"independent","y":"independent"}}},
{"title":"iter 3, coarse grid solve","width":212,"height":151,"layer":[
 {"data":{"name":"ref"},"transform":[{"fold":["ux_ref","uy_ref"],"as":["series","u"]}],"mark":{"type":"line","strokeWidth":2,"clip":true},"encoding":{"x":{"field":"t","type":"quantitative","scale":{"domain":[0,64],"nice":false},"axis":{"values":[0,20,40,60],"title":"t"}},"y":{"field":"u","type":"quantitative","scale":{"domain":[-0.8,0.8],"nice":false},"axis":{"values":[-0.5,0,0.5],"format":"~g","title":"uᵢ"}},"color":{"field":"series","type":"nominal"}}},
 {"data":{"name":"app"},"transform":[{"filter":"datum.p==9"},{"fold":["ux_app","uy_app"],"as":["series","u"]}],"mark":{"type":"line","strokeWidth":2,"clip":true},"encoding":{"x":{"field":"t","type":"quantitative","axis":{"orient":"top","values":[0,20,40,60],"labels":false,"title":null}},"y":{"field":"u","type":"quantitative","axis":{"orient":"right","values":[-0.5,0,0.5],"labels":false,"title":null}},"color":{"field":"series","type":"nominal"}}}
],"resolve":{"axis":{"x":"independent","y":"independent"}}}
],"spacing":142,"bounds":"flush"}
]
}
